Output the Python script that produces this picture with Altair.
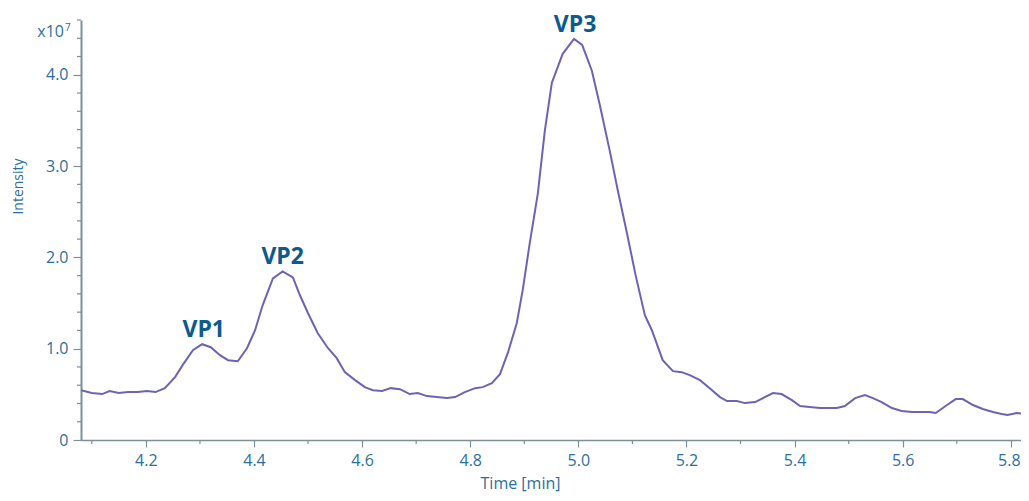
import altair as alt
import pandas as pd

# Time [min] and intensity (x10^7)
time_min = [4.080, 4.100, 4.119, 4.133, 4.150, 4.167, 4.185, 4.202, 4.218, 4.235,
            4.254, 4.268, 4.287, 4.304, 4.320, 4.337, 4.352, 4.370, 4.387, 4.402,
            4.416, 4.435, 4.453, 4.472, 4.485, 4.500, 4.518, 4.537, 4.553, 4.568,
            4.587, 4.605, 4.620, 4.637, 4.653, 4.670, 4.688, 4.703, 4.720, 4.738,
            4.757, 4.772, 4.790, 4.809, 4.823, 4.840, 4.855, 4.870, 4.886, 4.897,
            4.910, 4.925, 4.938, 4.951, 4.971, 4.992, 5.007, 5.025, 5.040, 5.058,
            5.073, 5.090, 5.106, 5.123, 5.136, 5.156, 5.175, 5.191, 5.206, 5.225,
            5.243, 5.262, 5.275, 5.293, 5.308, 5.327, 5.345, 5.360, 5.376, 5.395,
            5.410, 5.428, 5.447, 5.460, 5.478, 5.493, 5.512, 5.530, 5.545, 5.561,
            5.580, 5.598, 5.617, 5.635, 5.650, 5.661, 5.682, 5.698, 5.711, 5.730,
            5.748, 5.767, 5.783, 5.794, 5.811, 5.830]
intensity_e7 = [0.546, 0.514, 0.503, 0.536, 0.514, 0.525, 0.525, 0.536, 0.525, 0.568,
                0.689, 0.820, 0.984, 1.049, 1.016, 0.929, 0.874, 0.863, 1.005, 1.202,
                1.475, 1.770, 1.847, 1.781, 1.585, 1.388, 1.169, 1.005, 0.896, 0.743,
                0.656, 0.579, 0.546, 0.536, 0.568, 0.557, 0.503, 0.514, 0.481, 0.470,
                0.459, 0.470, 0.525, 0.568, 0.579, 0.623, 0.721, 0.962, 1.279, 1.639,
                2.153, 2.699, 3.388, 3.913, 4.230, 4.393, 4.328, 4.044, 3.661, 3.169,
                2.732, 2.262, 1.803, 1.366, 1.202, 0.874, 0.754, 0.743, 0.710, 0.656,
                0.568, 0.470, 0.426, 0.426, 0.404, 0.415, 0.470, 0.514, 0.503, 0.437,
                0.372, 0.361, 0.350, 0.350, 0.350, 0.372, 0.459, 0.492, 0.459, 0.415,
                0.350, 0.317, 0.306, 0.306, 0.306, 0.295, 0.383, 0.448, 0.448, 0.383,
                0.339, 0.306, 0.284, 0.273, 0.295, 0.284]

peak_names = ["VP1", "VP2", "VP3"]
peak_time = [4.307, 4.453, 4.994]
peak_int = [1.049, 1.847, 4.393]

x_major = [4.2, 4.4, 4.6, 4.8, 5.0, 5.2, 5.4, 5.6, 5.8]
x_minor = [4.1, 4.3, 4.5, 4.7, 4.9, 5.1, 5.3, 5.5, 5.7]
y_major = [0, 1, 2, 3, 4]
y_minor = [0.2, 0.4, 0.6, 0.8, 1.2, 1.4, 1.6, 1.8, 2.2, 2.4, 2.6, 2.8,
           3.2, 3.4, 3.6, 3.8, 4.2, 4.4, 4.6]

df = pd.DataFrame({"time": time_min, "intensity": intensity_e7})
peaks = pd.DataFrame({"name": peak_names, "time": peak_time, "intensity": peak_int})

AXIS_COL = "#7d8f99"
LABEL_COL = "#2c6f9c"
FONT = "Open Sans"

x_scale = alt.Scale(domain=[4.08, 5.8188], nice=False, zero=False)
y_scale = alt.Scale(domain=[0, 4.6], nice=False, zero=True)

x_axis = alt.Axis(
    values=x_major, format=".1f", tickSize=7,
    labelOffset={"condition": {"test": "datum.value > 5.7", "value": -2}, "value": 0},
    labelOverlap=False, labelBound=False, labelFlush=False,
    grid=False, domainColor=AXIS_COL, domainWidth=1.5, tickColor=AXIS_COL, tickWidth=1.2,
    labelColor=LABEL_COL, labelFont=FONT, labelFontSize=16, labelPadding=5,
    title="Time [min]", titleColor=LABEL_COL, titleFont=FONT, titleFontSize=16,
    titleFontWeight="normal", titleX=439, titleY=48, titleBaseline="alphabetic",
    titleAlign="center",
)
y_axis = alt.Axis(
    values=y_major, tickSize=8,
    labelExpr="datum.value == 0 ? '0' : format(datum.value, '.1f')",
    labelOverlap=False, labelBound=False, labelFlush=False,
    grid=False, domainColor=AXIS_COL, domainWidth=2, tickColor=AXIS_COL, tickWidth=1.2,
    labelColor=LABEL_COL, labelFont=FONT, labelFontSize=16, labelPadding=5,
    title="Intensity", titleColor=LABEL_COL, titleFont=FONT, titleFontSize=14,
    titleFontWeight="normal", titleAngle=270, titleX=-63, titleY=166,
    titleAlign="center", titleBaseline="middle",
)

line = alt.Chart(df).mark_line(color="#6c63b5", strokeWidth=2, clip=True).encode(
    x=alt.X("time:Q", scale=x_scale, axis=x_axis),
    y=alt.Y("intensity:Q", scale=y_scale, axis=y_axis),
)

# minor ticks drawn from the tick value lists through the shared scales
y_minor_ticks = alt.Chart(pd.DataFrame({"intensity": y_minor})).mark_rule(
    color=AXIS_COL, strokeWidth=1.2
).encode(
    y=alt.Y("intensity:Q", scale=y_scale),
    x=alt.value(-4), x2=alt.value(0),
)
x_minor_ticks = alt.Chart(pd.DataFrame({"time": x_minor})).mark_rule(
    color=AXIS_COL, strokeWidth=1.2
).encode(
    x=alt.X("time:Q", scale=x_scale),
    y=alt.value(420), y2=alt.value(424),
)

labels = alt.Chart(peaks).mark_text(
    font=FONT, fontSize=23, fontWeight="bold", color="#0d5a8c",
    baseline="alphabetic", align="center", dy=-7,
).encode(
    x=alt.X("time:Q", scale=x_scale),
    y=alt.Y("intensity:Q", scale=y_scale),
    text="name:N",
)

exp_base = alt.Chart(pd.DataFrame({"t": ["x10"]})).mark_text(
    font=FONT, fontSize=16, color=LABEL_COL, align="right", baseline="alphabetic"
).encode(x=alt.value(-17), y=alt.value(17), text="t:N")

exp_sup = alt.Chart(pd.DataFrame({"t": ["7"]})).mark_text(
    font=FONT, fontSize=10, color=LABEL_COL, align="left", baseline="alphabetic"
).encode(x=alt.value(-16), y=alt.value(11), text="t:N")

chart = alt.layer(line, y_minor_ticks, x_minor_ticks, labels, exp_base, exp_sup).properties(
    width=940, height=420,
    autosize=alt.AutoSizeParams(type="none"),
    padding={"left": 73, "top": 12, "right": 0, "bottom": 53},
).configure(background="white", view=alt.ViewConfig(stroke=None))

chart.save("out.html", embed_options={"renderer": "svg", "actions": False})
